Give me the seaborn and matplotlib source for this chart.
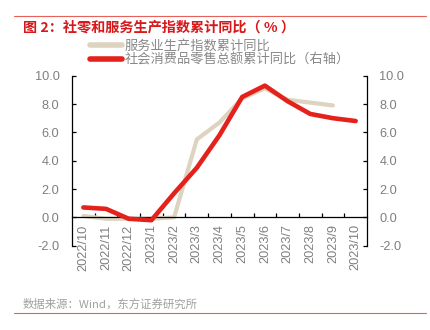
import matplotlib
matplotlib.use("Agg")
import matplotlib.pyplot as plt
import seaborn as sns
import pandas as pd
import numpy as np
from matplotlib.ticker import FixedLocator, FormatStrFormatter

sns.set_theme(style="white")
plt.rcParams['font.family'] = ['Liberation Sans', 'Noto Sans CJK SC', 'DejaVu Sans']

months = ["2022/10", "2022/11", "2022/12", "2023/1", "2023/2", "2023/3", "2023/4",
          "2023/5", "2023/6", "2023/7", "2023/8", "2023/9", "2023/10"]
service_idx = [0.1, -0.1, -0.1, -0.1, 0.0, 5.5, 6.7, 8.4, 9.1, 8.3, 8.1, 7.9, np.nan]
retail_sales = [0.7, 0.6, -0.1, -0.2, 1.7, 3.5, 5.8, 8.5, 9.3, 8.2, 7.3, 7.0, 6.8]
yticks = [-2.0, 0.0, 2.0, 4.0, 6.0, 8.0, 10.0]

name1 = "服务业生产指数累计同比"
name2 = "社会消费品零售总额累计同比（右轴）"

GRAY = "#DDD3BF"
RED = "#E4211B"
TXT = "#7F7F7F"
CJK = ['Noto Sans CJK SC', 'DejaVu Sans']
FS = 9.2

df = pd.DataFrame({"x": np.arange(len(months)), "s": service_idx, "r": retail_sales})

fig = plt.figure(figsize=(4.3, 3.3), dpi=100)
ax = fig.add_axes([72/430, 1-245.7/330, 295/430, 170/330])
ax2 = ax.twinx()

sns.lineplot(data=df, x="x", y="s", ax=ax, color=GRAY, lw=3, label=name1, legend=False)
sns.lineplot(data=df, x="x", y="r", ax=ax2, color=RED, lw=3.3, label=name2, legend=False)

for a in (ax, ax2):
    a.set_ylim(-2, 10)
    a.set_xlim(-0.5, len(months) - 0.5)
    a.set_yticks(yticks)
    a.yaxis.set_major_formatter(FormatStrFormatter('%.1f'))
    a.set_xlabel("")
    a.set_ylabel("")
    a.spines['top'].set_visible(False)
    a.grid(False)
    a.patch.set_alpha(0)

ax.spines['right'].set_visible(False)
ax2.spines['left'].set_visible(False)
ax2.spines['bottom'].set_visible(False)
ax.spines['left'].set_color("black")
ax.spines['left'].set_linewidth(0.9)
ax2.spines['right'].set_color("black")
ax2.spines['right'].set_linewidth(0.9)
ax.spines['bottom'].set_position(('data', 0))
ax.spines['bottom'].set_color("black")
ax.spines['bottom'].set_linewidth(0.9)

ax.set_xticks(np.arange(len(months)))
ax.set_xticklabels(months, rotation=90, fontsize=FS, color=TXT)
ax.xaxis.set_minor_locator(FixedLocator(np.arange(0.5, len(months) - 1, 1.0)))
ax.tick_params(axis='x', which='major', length=0, pad=5)
ax.tick_params(axis='x', which='minor', direction='in', length=3, width=0.9, color='black', bottom=True)
ax.tick_params(axis='y', direction='in', length=3, width=0.9, color='black', left=True, labelsize=FS, labelcolor=TXT, pad=9)
ax2.tick_params(axis='y', direction='in', length=3, width=0.9, color='black', right=True, labelsize=FS, labelcolor=TXT, pad=9)
ax2.tick_params(axis='x', bottom=False, labelbottom=False)
ax.set_zorder(ax2.get_zorder() - 1)

h1, l1 = ax.get_legend_handles_labels()
h2, l2 = ax2.get_legend_handles_labels()
leg = fig.legend(h1 + h2, l1 + l2, loc='upper left', bbox_to_anchor=(90/430, 1-40/330),
                 frameon=False, handlelength=2.45, handletextpad=0.2, labelspacing=0.05,
                 borderpad=0, borderaxespad=0,
                 prop={'family': CJK, 'size': 9.5})
for t in leg.get_texts():
    t.set_color("#888888")
for h in leg.legend_handles:
    h.set_linewidth(4)

fig.text(23/430, 1-28/330, "图 2：社零和服务生产指数累计同比（ % ）", color="#D7191C",
         fontsize=10.2, fontweight='bold', family=CJK, va='center', ha='left')
fig.text(23/430, 1-304/330, "数据来源：Wind，东方证券研究所", color="#A0A0A0",
         fontsize=8.2, family=CJK, va='center', ha='left')
fig.add_artist(plt.Line2D([14/430, 426/430], [1-16/330, 1-16/330], color="#E8605A", lw=0.8))
fig.add_artist(plt.Line2D([14/430, 426/430], [1-312.7/330, 1-312.7/330], color="#E8605A", lw=0.8))

fig.savefig("out.png", dpi=100)
